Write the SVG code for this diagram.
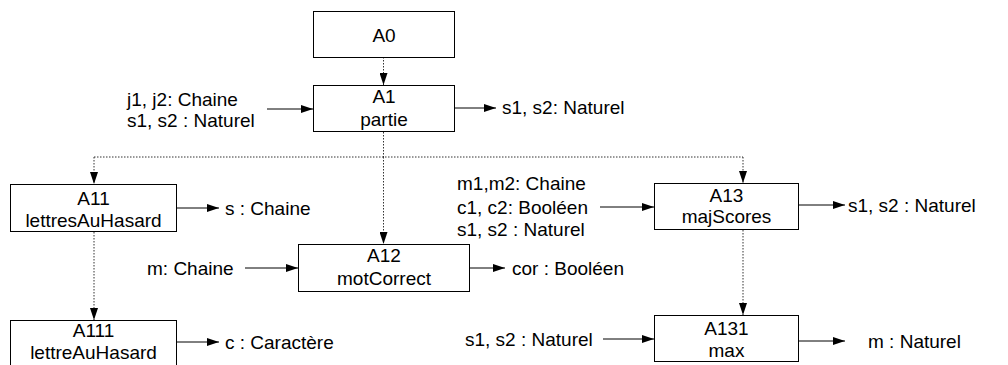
<svg xmlns="http://www.w3.org/2000/svg" width="1008" height="365" viewBox="0 0 1008 365">
  <style>
    .box { fill: #ffffff; stroke: #000000; stroke-width: 1; }
    text { font-family: "Liberation Sans", Arial, sans-serif; font-size: 19px; fill: #000000; }
    .c { text-anchor: middle; }
    .flow { stroke: #000000; stroke-width: 1; fill: none; marker-end: url(#arrow); }
    .call { stroke: #333333; stroke-width: 1; fill: none; stroke-dasharray: 1.5 1.5; }
    .callarrow { stroke: #333333; stroke-width: 1; fill: none; stroke-dasharray: 1.5 1.5; marker-end: url(#arrow); }
  </style>
  <defs>
    <marker id="arrow" viewBox="0 0 12 8" refX="12" refY="4" markerWidth="12" markerHeight="8" markerUnits="userSpaceOnUse" orient="auto">
      <path d="M0,0 L12,4 L0,8 Z" fill="#000000"/>
    </marker>
  </defs>
  <rect width="1008" height="365" fill="#ffffff"/>

  <!-- decomposition links (dotted) and data flows (solid) -->
  <g id="connectors">
    <line class="callarrow" x1="383.5" y1="57" x2="383.5" y2="85"/>
    <line class="call" x1="383.5" y1="132" x2="383.5" y2="157"/>
    <line class="call" x1="94" y1="157" x2="743" y2="157"/>
    <line class="callarrow" x1="94" y1="157" x2="94" y2="184"/>
    <line class="callarrow" x1="383.5" y1="157" x2="383.5" y2="244"/>
    <line class="callarrow" x1="743" y1="157" x2="743" y2="183"/>
    <line class="callarrow" x1="94" y1="232" x2="94" y2="320"/>
    <line class="callarrow" x1="743" y1="230" x2="743" y2="315"/>

    <line class="flow" x1="267" y1="109" x2="313" y2="109"/>
    <line class="flow" x1="454" y1="108" x2="496" y2="108"/>
    <line class="flow" x1="176" y1="208" x2="219" y2="208"/>
    <line class="flow" x1="176" y1="342" x2="219" y2="342"/>
    <line class="flow" x1="245" y1="268" x2="298" y2="268"/>
    <line class="flow" x1="470" y1="268" x2="505" y2="268"/>
    <line class="flow" x1="600" y1="207" x2="654" y2="207"/>
    <line class="flow" x1="799" y1="205" x2="845" y2="205"/>
    <line class="flow" x1="603" y1="339" x2="654" y2="339"/>
    <line class="flow" x1="799" y1="341" x2="845" y2="341"/>
  </g>

  <g id="A0">
    <rect class="box" x="313.5" y="11.5" width="141" height="46"/>
    <text class="c" x="384" y="42">A0</text>
  </g>

  <g id="A1">
    <rect class="box" x="313.5" y="85.5" width="141" height="46"/>
    <text class="c" x="384" y="103">A1</text>
    <text class="c" x="384" y="126">partie</text>
    <text x="127" y="106">j1, j2: Chaine</text>
    <text x="127" y="127">s1, s2 : Naturel</text>
    <text x="502" y="114">s1, s2: Naturel</text>
  </g>

  <g id="A11">
    <rect class="box" x="10.5" y="184.5" width="166" height="47"/>
    <text class="c" x="93.5" y="205">A11</text>
    <text class="c" x="93.5" y="227">lettresAuHasard</text>
    <text x="225" y="215">s : Chaine</text>
  </g>

  <g id="A111">
    <rect class="box" x="10.5" y="320.5" width="166" height="47"/>
    <text class="c" x="93.5" y="337">A111</text>
    <text class="c" x="93.5" y="359">lettreAuHasard</text>
    <text x="225" y="349">c : Caractère</text>
  </g>

  <g id="A12">
    <rect class="box" x="298.5" y="244.5" width="171" height="47"/>
    <text class="c" x="384" y="262">A12</text>
    <text class="c" x="384" y="285">motCorrect</text>
    <text x="147" y="275">m: Chaine</text>
    <text x="512" y="275">cor : Booléen</text>
  </g>

  <g id="A13">
    <rect class="box" x="654.5" y="183.5" width="144" height="46"/>
    <text class="c" x="726.5" y="202">A13</text>
    <text class="c" x="726.5" y="223">majScores</text>
    <text x="457" y="190">m1,m2: Chaine</text>
    <text x="457" y="214">c1, c2: Booléen</text>
    <text x="457" y="236">s1, s2 : Naturel</text>
    <text x="848" y="212">s1, s2 : Naturel</text>
  </g>

  <g id="A131">
    <rect class="box" x="654.5" y="315.5" width="144" height="46"/>
    <text class="c" x="726.5" y="335">A131</text>
    <text class="c" x="726.5" y="357">max</text>
    <text x="465" y="346">s1, s2 : Naturel</text>
    <text x="868" y="348">m : Naturel</text>
  </g>
</svg>
